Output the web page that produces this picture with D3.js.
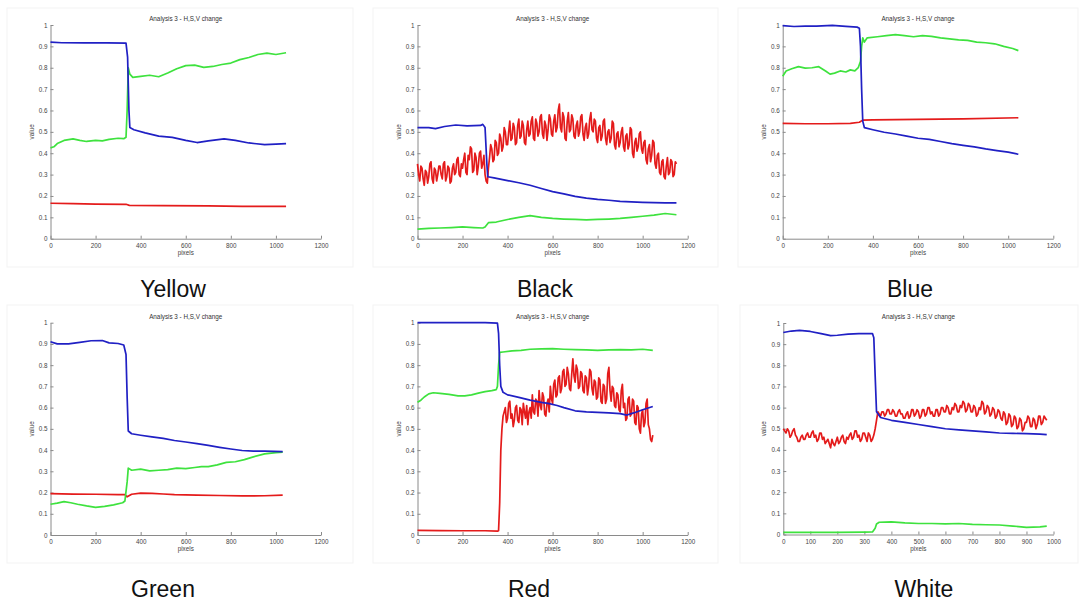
<!DOCTYPE html>
<html><head><meta charset="utf-8">
<script src="https://cdn.jsdelivr.net/npm/d3@7"></script>
<style>
html,body{margin:0;padding:0;background:#fff;}
svg{display:block;font-family:"Liberation Sans",Arial,sans-serif;}
</style></head>
<body><svg id="c" width="1081" height="603"></svg>
<script>
// ---------- DATA ----------
const panelNames = ["Yellow", "Black", "Blue", "Green", "Red", "White"];
const panelTitle = "Analysis 3 - H,S,V change";
const xLabel = "pixels";
const yLabel = "value";
const xMaxes = [1200, 1200, 1200, 1200, 1200, 1000];
const xTicksA = [0, 200, 400, 600, 800, 1000, 1200];
const xTicksB = [0, 100, 200, 300, 400, 500, 600, 700, 800, 900, 1000];
const yTicks = [0, 0.1, 0.2, 0.3, 0.4, 0.5, 0.6, 0.7, 0.8, 0.9, 1];

// Yellow
const yellowH = [[0,0.166],[100,0.164],[200,0.162],[335,0.161],[350,0.156],[500,0.155],[700,0.154],[850,0.151],[1045,0.151]];
const yellowS = [[0,0.425],[15,0.43],[30,0.445],[60,0.46],[100,0.467],[130,0.46],[160,0.455],[200,0.46],[230,0.458],[260,0.465],[300,0.47],[325,0.468],[335,0.475],[340,0.6],[345,0.8],[352,0.77],[365,0.755],[400,0.76],[440,0.765],[480,0.758],[520,0.775],[560,0.795],[600,0.81],[640,0.812],[680,0.802],[720,0.806],[760,0.815],[800,0.822],[840,0.838],[880,0.848],[920,0.862],[960,0.868],[1000,0.862],[1045,0.87]];
const yellowV = [[0,0.92],[50,0.917],[150,0.916],[250,0.916],[335,0.915],[342,0.85],[348,0.6],[352,0.52],[370,0.51],[420,0.495],[480,0.48],[540,0.474],[600,0.46],[650,0.45],[700,0.458],[770,0.467],[820,0.46],[880,0.448],[950,0.44],[1000,0.443],[1045,0.445]];

// Black
const blackHStart = 0, blackHStep = 5;
const blackHValues = [
 0.35,0.30,0.27,0.34,0.33,0.28,0.25,0.32,0.31,0.26,0.29,0.35,0.36,0.28,0.26,0.33,0.32,0.27,0.30,0.34,
 0.34,0.30,0.28,0.35,0.36,0.27,0.29,0.34,0.33,0.26,0.27,0.33,0.35,0.30,0.31,0.37,0.38,0.30,0.29,0.35,
 0.33,0.37,0.40,0.31,0.30,0.39,0.37,0.43,0.42,0.31,0.32,0.40,0.38,0.30,0.34,0.40,0.41,0.33,0.35,0.39,
 0.30,0.27,0.26,0.33,0.38,0.44,0.42,0.36,0.37,0.46,0.45,0.39,0.40,0.49,0.47,0.41,0.43,0.52,0.50,0.44,
 0.44,0.50,0.55,0.46,0.47,0.54,0.52,0.44,0.45,0.53,0.56,0.47,0.48,0.55,0.53,0.45,0.44,0.51,0.55,0.48,
 0.49,0.55,0.57,0.47,0.46,0.56,0.54,0.48,0.50,0.57,0.58,0.49,0.47,0.55,0.53,0.46,0.51,0.58,0.56,0.49,
 0.48,0.55,0.58,0.50,0.52,0.60,0.63,0.52,0.50,0.59,0.57,0.47,0.46,0.55,0.59,0.50,0.51,0.58,0.56,0.48,
 0.47,0.53,0.55,0.48,0.50,0.57,0.58,0.49,0.46,0.52,0.54,0.47,0.49,0.56,0.59,0.51,0.50,0.56,0.55,0.47,
 0.45,0.52,0.53,0.46,0.48,0.55,0.56,0.47,0.44,0.50,0.51,0.45,0.47,0.55,0.54,0.44,0.42,0.49,0.50,0.43,
 0.45,0.50,0.52,0.43,0.41,0.48,0.49,0.42,0.44,0.52,0.51,0.40,0.38,0.45,0.47,0.41,0.43,0.49,0.50,0.42,
 0.40,0.45,0.46,0.37,0.35,0.42,0.44,0.36,0.39,0.46,0.45,0.35,0.33,0.39,0.40,0.31,0.30,0.36,0.37,0.29,
 0.28,0.34,0.38,0.30,0.31,0.37,0.36,0.29,0.30,0.36,0.35];
const blackS = [[0,0.045],[50,0.048],[100,0.05],[150,0.052],[200,0.055],[250,0.052],[290,0.05],[300,0.055],[315,0.075],[350,0.078],[400,0.09],[450,0.1],[500,0.108],[550,0.1],[600,0.095],[650,0.092],[700,0.09],[750,0.088],[800,0.09],[850,0.092],[900,0.095],[950,0.1],[1000,0.105],[1050,0.11],[1100,0.118],[1150,0.112]];
const blackV = [[0,0.52],[50,0.52],[80,0.515],[120,0.525],[170,0.532],[220,0.528],[280,0.53],[290,0.535],[300,0.52],[308,0.35],[312,0.29],[340,0.285],[400,0.272],[450,0.262],[500,0.25],[550,0.235],[600,0.22],[650,0.21],[700,0.198],[750,0.19],[800,0.184],[850,0.18],[900,0.175],[950,0.172],[1000,0.17],[1100,0.168],[1150,0.168]];

// Blue
const blueH = [[0,0.54],[100,0.538],[200,0.538],[300,0.54],[340,0.545],[355,0.555],[400,0.556],[600,0.558],[800,0.561],[1045,0.566]];
const blueS = [[0,0.76],[15,0.785],[40,0.795],[70,0.805],[100,0.798],[130,0.8],[160,0.805],[190,0.785],[210,0.77],[230,0.775],[255,0.785],[280,0.78],[300,0.79],[320,0.785],[335,0.8],[345,0.83],[350,0.9],[355,0.94],[362,0.92],[375,0.94],[420,0.945],[460,0.95],[500,0.955],[540,0.95],[580,0.945],[620,0.95],[660,0.947],[700,0.94],[740,0.935],[780,0.93],[820,0.928],[860,0.92],[900,0.917],[940,0.912],[980,0.9],[1020,0.89],[1045,0.88]];
const blueV = [[0,0.997],[50,0.993],[100,0.995],[150,0.995],[220,0.998],[280,0.994],[330,0.99],[340,0.985],[345,0.9],[350,0.7],[355,0.55],[362,0.52],[400,0.51],[450,0.498],[500,0.49],[550,0.48],[600,0.47],[650,0.465],[700,0.455],[750,0.445],[800,0.437],[850,0.43],[900,0.42],[950,0.412],[1000,0.405],[1045,0.395]];

// Green
const greenH = [[0,0.195],[100,0.193],[200,0.192],[300,0.19],[330,0.19],[340,0.18],[360,0.192],[400,0.197],[450,0.196],[500,0.193],[550,0.19],[650,0.188],[750,0.186],[850,0.184],[950,0.185],[1030,0.188]];
const greenS = [[0,0.145],[30,0.15],[60,0.157],[90,0.152],[120,0.145],[160,0.137],[200,0.13],[240,0.135],[280,0.142],[320,0.152],[330,0.16],[340,0.25],[345,0.315],[360,0.305],[400,0.31],[440,0.302],[480,0.305],[520,0.308],[560,0.315],[600,0.313],[640,0.318],[670,0.322],[700,0.322],[740,0.33],[780,0.342],[820,0.345],[860,0.355],[900,0.368],[950,0.382],[1000,0.388],[1030,0.39]];
const greenV = [[0,0.91],[30,0.9],[80,0.9],[130,0.907],[180,0.915],[230,0.916],[260,0.905],[300,0.902],[325,0.895],[335,0.85],[340,0.65],[345,0.49],[360,0.477],[400,0.47],[450,0.462],[500,0.455],[550,0.445],[600,0.438],[650,0.43],[700,0.422],[750,0.413],[800,0.405],[850,0.398],[900,0.395],[950,0.395],[1030,0.393]];

// Red
const redHLead = [[0,0.022],[100,0.021],[200,0.02],[300,0.02],[355,0.018],[360,0.02],[365,0.15],[370,0.4],[375,0.5],[380,0.56],[385,0.58]];
const redHStart = 390, redHStep = 5;
const redHValues = [
 0.60,0.53,0.55,0.62,0.63,0.55,0.57,0.51,0.54,0.60,0.61,0.54,0.53,0.60,0.59,0.52,0.62,0.58,0.55,0.61,
 0.52,0.58,0.60,0.55,0.66,0.58,0.57,0.64,0.63,0.56,0.68,0.61,0.59,0.67,0.65,0.57,0.56,0.62,0.64,0.58,
 0.70,0.64,0.62,0.71,0.73,0.65,0.66,0.74,0.75,0.67,0.69,0.77,0.78,0.70,0.71,0.79,0.76,0.69,0.68,0.76,
 0.83,0.75,0.72,0.80,0.78,0.69,0.70,0.77,0.76,0.68,0.67,0.75,0.74,0.66,0.70,0.78,0.77,0.69,0.66,0.73,
 0.72,0.64,0.65,0.74,0.73,0.63,0.62,0.71,0.70,0.62,0.64,0.76,0.79,0.68,0.63,0.70,0.69,0.61,0.60,0.67,
 0.66,0.59,0.58,0.68,0.71,0.60,0.62,0.54,0.55,0.64,0.65,0.56,0.57,0.64,0.63,0.53,0.52,0.61,0.60,0.50,
 0.48,0.57,0.59,0.51,0.53,0.62,0.64,0.52,0.50,0.45,0.44];
const redHTail = [[1045,0.47]];
const redS = [[0,0.625],[15,0.635],[30,0.65],[50,0.665],[70,0.67],[100,0.667],[140,0.662],[180,0.655],[210,0.655],[240,0.66],[270,0.668],[300,0.675],[330,0.68],[350,0.685],[355,0.7],[360,0.8],[365,0.86],[380,0.862],[420,0.867],[460,0.87],[500,0.875],[550,0.877],[600,0.878],[650,0.875],[700,0.873],[750,0.872],[800,0.87],[850,0.872],[900,0.873],[950,0.872],[1000,0.875],[1045,0.87]];
const redV = [[0,1],[100,1],[200,1],[300,1],[355,0.998],[360,0.95],[365,0.8],[370,0.7],[380,0.672],[400,0.66],[450,0.648],[500,0.635],[550,0.625],[580,0.62],[620,0.61],[650,0.6],[700,0.585],[750,0.58],[800,0.578],[850,0.575],[900,0.572],[930,0.565],[960,0.575],[1000,0.59],[1045,0.605]];

// White
const whiteHStart = 0, whiteHStep = 5;
const whiteHValues = [
 0.50,0.49,0.48,0.50,0.49,0.46,0.47,0.49,0.50,0.47,0.46,0.44,0.44,0.46,0.47,0.45,0.45,0.47,0.48,0.46,
 0.46,0.48,0.49,0.46,0.47,0.44,0.45,0.48,0.48,0.45,0.46,0.43,0.44,0.45,0.43,0.41,0.45,0.43,0.42,0.44,
 0.46,0.43,0.44,0.46,0.47,0.44,0.43,0.46,0.45,0.47,0.48,0.45,0.46,0.49,0.49,0.46,0.47,0.44,0.45,0.48,
 0.48,0.46,0.44,0.48,0.47,0.44,0.45,0.47,0.50,0.54,0.58,0.57,0.56,0.58,0.58,0.56,0.57,0.59,0.59,0.57,
 0.57,0.59,0.58,0.56,0.56,0.58,0.59,0.57,0.57,0.55,0.55,0.57,0.58,0.55,0.56,0.59,0.59,0.56,0.57,0.59,
 0.58,0.55,0.56,0.59,0.59,0.56,0.57,0.60,0.60,0.57,0.58,0.56,0.56,0.59,0.59,0.56,0.57,0.60,0.60,0.58,
 0.58,0.61,0.60,0.57,0.57,0.60,0.59,0.62,0.61,0.58,0.58,0.61,0.60,0.63,0.62,0.58,0.59,0.62,0.61,0.58,
 0.58,0.61,0.60,0.56,0.57,0.60,0.59,0.63,0.62,0.57,0.58,0.61,0.60,0.56,0.57,0.60,0.59,0.55,0.56,0.59,
 0.58,0.55,0.54,0.58,0.57,0.52,0.53,0.57,0.56,0.51,0.52,0.56,0.55,0.50,0.51,0.55,0.54,0.49,0.50,0.53,
 0.53,0.56,0.55,0.51,0.51,0.55,0.54,0.50,0.52,0.56,0.56,0.52,0.53,0.56,0.55];
const whiteHTail = [[975,0.54]];
const whiteS = [[0,0.01],[100,0.01],[200,0.01],[300,0.011],[330,0.012],[340,0.03],[345,0.05],[355,0.058],[400,0.06],[450,0.055],[500,0.052],[550,0.052],[600,0.05],[650,0.052],[700,0.048],[750,0.046],[800,0.045],[850,0.04],[900,0.034],[950,0.036],[975,0.04]];
const whiteV = [[0,0.955],[30,0.962],[60,0.965],[100,0.96],[140,0.95],[175,0.94],[200,0.942],[240,0.947],[280,0.95],[330,0.95],[335,0.93],[340,0.75],[345,0.58],[360,0.553],[400,0.54],[450,0.53],[500,0.52],[550,0.51],[600,0.5],[650,0.495],[700,0.49],[750,0.485],[800,0.48],[850,0.478],[900,0.477],[950,0.475],[975,0.472]];

// ---------- BUILD ----------
const stepSeries = (x0, step, vals) => vals.map((v, i) => [x0 + i * step, v]);
const seriesByPanel = [
  {H: yellowH, S: yellowS, V: yellowV},
  {H: stepSeries(blackHStart, blackHStep, blackHValues), S: blackS, V: blackV},
  {H: blueH, S: blueS, V: blueV},
  {H: greenH, S: greenS, V: greenV},
  {H: redHLead.concat(stepSeries(redHStart, redHStep, redHValues), redHTail), S: redS, V: redV},
  {H: stepSeries(whiteHStart, whiteHStep, whiteHValues).concat(whiteHTail), S: whiteS, V: whiteV}
];
const colors = {H: "#e41b1b", S: "#3ee23e", V: "#2020c4"};

const layouts = [
  {l: 50.5, r: 321, t: 25, b: 238.7, lx: 173, ly: 297, box: [7, 8, 346, 259]},
  {l: 417.5, r: 687.7, t: 25, b: 238.7, lx: 545, ly: 297, box: [373, 8, 345, 259]},
  {l: 782.7, r: 1053.3, t: 25, b: 238.7, lx: 910, ly: 297, box: [738, 8, 340, 259]},
  {l: 50.5, r: 321, t: 322.7, b: 535, lx: 163, ly: 597, box: [7, 305, 346, 258]},
  {l: 417.5, r: 687.7, t: 322.7, b: 535, lx: 529, ly: 597, box: [373, 305, 345, 258]},
  {l: 783.3, r: 1053.5, t: 323, b: 534.5, lx: 924, ly: 597, box: [740, 305, 338, 258]}
];

const svg = d3.select("#c");
const axisColor = "#8a8a8a", textColor = "#444";

panelNames.forEach((name, i) => {
  const L = layouts[i];
  const g = svg.append("g");
  g.append("rect").attr("x", L.box[0]).attr("y", L.box[1]).attr("width", L.box[2]).attr("height", L.box[3])
    .attr("fill", "#fff").attr("stroke", "#f3f3f3").attr("stroke-width", 1);

  const x = d3.scaleLinear().domain([0, xMaxes[i]]).range([L.l, L.r]);
  const y = d3.scaleLinear().domain([0, 1]).range([L.b, L.t]);
  const xt = xMaxes[i] === 1000 ? xTicksB : xTicksA;

  // x axis (inward ticks)
  const xa = g.append("g").attr("transform", `translate(0,${L.b})`)
    .call(d3.axisBottom(x).tickValues(xt).tickSizeInner(-3).tickSizeOuter(0).tickPadding(4).tickFormat(d3.format("d")));
  xa.select(".domain").attr("stroke", axisColor);
  xa.selectAll(".tick line").attr("stroke", axisColor);
  xa.selectAll(".tick text").attr("fill", textColor).style("font-size", "6.3px")
    .attr("y", 9).attr("dy", 0);

  const ya = g.append("g").attr("transform", `translate(${L.l},0)`)
    .call(d3.axisLeft(y).tickValues(yTicks).tickSizeInner(-3).tickSizeOuter(0).tickPadding(4).tickFormat(d => d3.format("")(+d.toFixed(1))));
  ya.select(".domain").attr("stroke", axisColor);
  ya.selectAll(".tick line").attr("stroke", axisColor);
  ya.selectAll(".tick text").attr("fill", textColor).style("font-size", "6.3px").attr("x", -3);

  // lines
  const line = d3.line().x(d => x(d[0])).y(d => y(d[1]));
  ["H", "S", "V"].forEach(k => {
    g.append("path").datum(seriesByPanel[i][k]).attr("d", line)
      .attr("fill", "none").attr("stroke", colors[k]).attr("stroke-width", 1.7)
      .attr("stroke-linejoin", "round");
  });

  // texts
  g.append("text").attr("x", (L.l + L.r) / 2).attr("y", L.t - 4).attr("text-anchor", "middle")
    .attr("fill", "#333").style("font-size", "6.3px").text(panelTitle);
  g.append("text").attr("x", (L.l + L.r) / 2).attr("y", L.b + 16).attr("text-anchor", "middle")
    .attr("fill", textColor).style("font-size", "6.3px").text(xLabel);
  g.append("text").attr("transform", `translate(${L.l - 17},${(L.t + L.b) / 2}) rotate(-90)`)
    .attr("text-anchor", "middle").attr("fill", textColor).style("font-size", "6.3px").text(yLabel);
  g.append("text").attr("x", L.lx).attr("y", L.ly).attr("text-anchor", "middle")
    .attr("fill", "#111").style("font-size", "23px").text(name);
});
</script>
</body></html>
